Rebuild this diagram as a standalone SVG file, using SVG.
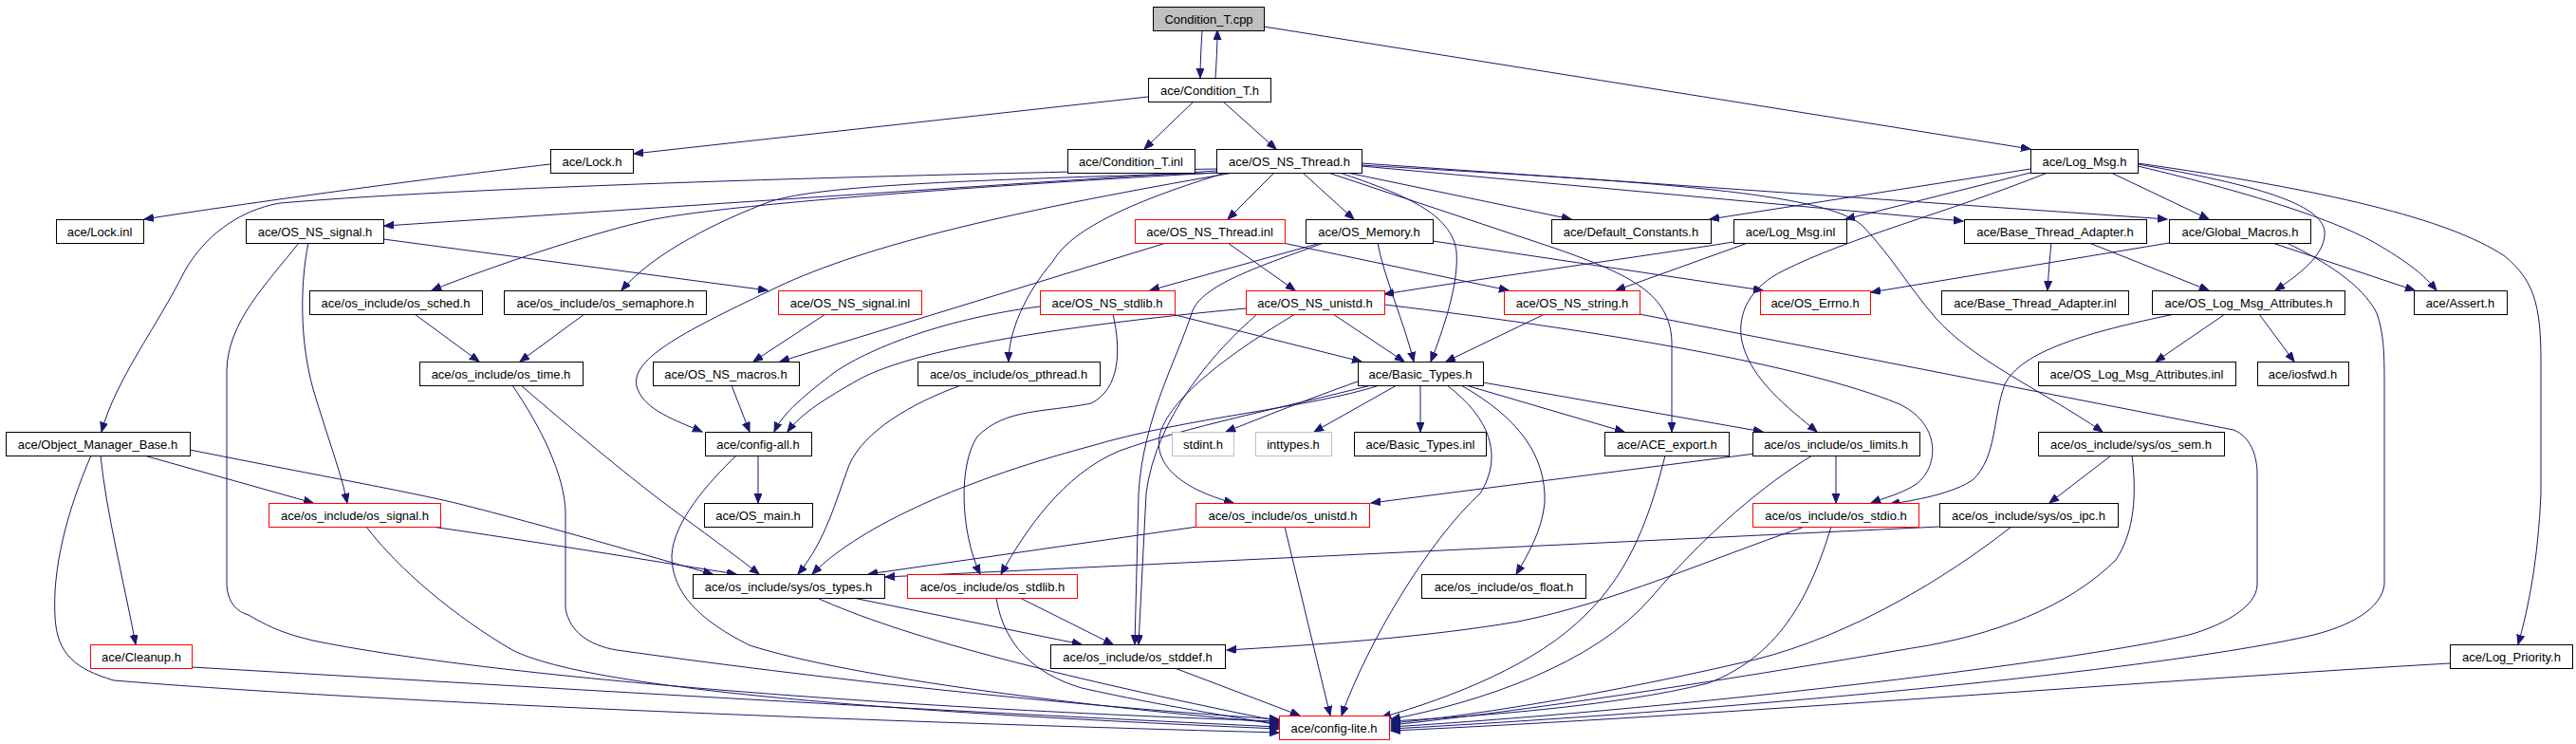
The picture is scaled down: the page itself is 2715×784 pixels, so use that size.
<svg xmlns="http://www.w3.org/2000/svg" width="2715" height="784" viewBox="0 0 2715 784">
<style>
.n rect{fill:#fff;stroke:#000;stroke-width:1}
.n.r rect{stroke:#f00}
.n.g rect{stroke:#bfbfbf}
.n.s rect{fill:#bfbfbf}
.n text{font-family:"Liberation Sans",Arial,sans-serif;font-size:13px;text-anchor:middle;fill:#000}
#edges path{fill:none;stroke:#191970;stroke-width:1;marker-end:url(#a)}
</style>
<defs>
<marker id="a" markerWidth="11" markerHeight="9" refX="10" refY="4" orient="auto" markerUnits="userSpaceOnUse"><path d="M0,0 L10,4 L0,8 z" fill="#191970" stroke="#191970" stroke-width="1"/></marker>
</defs>
<rect width="2715" height="784" fill="#fff"/>
<g id="edges">
<path d="M1267,32 C1266,50 1265,66 1265,82"/>
<path d="M1281,82 C1282,66 1283,50 1283,32"/>
<path d="M1332,28 L2140,157"/>
<path d="M1210,102 L668,162"/>
<path d="M1258,107 L1206,157"/>
<path d="M1289,107 L1345,157"/>
<path d="M580,173 C450,188 260,214 152,231"/>
<path d="M1282,178 C1000,183 520,195 295,214 C250,222 215,250 195,285 C165,345 122,400 107,455"/>
<path d="M1282,180 C1000,198 620,224 405,238"/>
<path d="M1282,182 C1050,195 760,215 680,233 C620,247 520,280 455,306"/>
<path d="M1290,182 C1000,190 860,196 810,213 C760,232 690,265 655,306"/>
<path d="M1300,182 C1050,225 900,262 810,307 C720,350 660,380 672,410 C680,432 712,443 740,455"/>
<path d="M1292,182 C1200,210 1130,240 1110,275 C1080,310 1063,350 1063,381"/>
<path d="M1343,182 L1294,231"/>
<path d="M1373,182 L1427,231"/>
<path d="M1420,182 L1656,231"/>
<path d="M1412,182 C1480,205 1530,225 1535,265 C1538,300 1520,350 1508,381"/>
<path d="M1400,182 L1640,262 C1720,290 1760,310 1762,360 L1762,455"/>
<path d="M1435,172 L2284,231"/>
<path d="M1435,175 L2069,233"/>
<path d="M1435,174 C1700,190 1930,200 1965,240 C1995,272 2010,300 2040,335 C2080,380 2150,410 2216,455"/>
<path d="M2140,178 L1802,231"/>
<path d="M2140,182 L1945,231"/>
<path d="M2158,182 C2050,225 1950,250 1880,285 C1845,302 1830,330 1836,360 C1845,400 1885,430 1915,455"/>
<path d="M2225,182 L2328,231"/>
<path d="M2253,173 C2380,195 2445,215 2450,243 C2452,265 2430,285 2398,306"/>
<path d="M2253,175 C2380,205 2470,235 2510,260 C2540,278 2555,290 2568,306"/>
<path d="M2253,172 C2450,200 2580,230 2640,270 C2670,295 2678,320 2678,380 L2678,520 C2675,590 2665,640 2654,679"/>
<path d="M404,252 L809,306"/>
<path d="M325,256 C316,300 316,360 330,410 C345,460 360,500 366,530"/>
<path d="M315,256 C280,300 240,340 239,390 L239,617 C240,635 250,645 262,648 C290,665 310,670 330,675 C500,710 900,745 1348,760"/>
<path d="M1229,256 L822,381"/>
<path d="M1294,256 L1365,306"/>
<path d="M1352,256 L1590,306"/>
<path d="M1392,256 L1212,306"/>
<path d="M1452,256 C1458,290 1480,340 1490,381"/>
<path d="M1510,254 L1858,306"/>
<path d="M1395,256 C1330,280 1265,300 1256,330 C1240,380 1205,440 1200,520 L1196,679"/>
<path d="M1325,331 C1280,370 1218,440 1208,520 L1200,679"/>
<path d="M1365,331 C1300,370 1230,420 1222,460 C1216,495 1255,518 1300,530"/>
<path d="M1313,325 C1100,345 960,370 905,400 C870,420 845,435 830,455"/>
<path d="M1405,331 L1480,381"/>
<path d="M1459,321 C1700,350 1900,385 2000,425 C2045,445 2045,490 2020,510 C2005,520 1985,525 1972,530"/>
<path d="M1096,323 C1000,335 920,365 880,392 C850,415 825,435 816,455"/>
<path d="M1235,331 L1435,381"/>
<path d="M1173,331 C1182,370 1180,410 1150,425 C1100,435 1060,430 1030,460 C1010,490 1012,560 1033,605"/>
<path d="M870,331 L794,381"/>
<path d="M771,406 L790,455"/>
<path d="M437,331 L505,381"/>
<path d="M616,331 L548,381"/>
<path d="M540,406 C570,450 595,500 596,540 L596,641 C600,665 620,680 650,685 C900,720 1150,745 1348,758"/>
<path d="M549,406 C600,450 660,500 700,530 C740,560 775,585 800,605"/>
<path d="M1013,406 C960,425 910,455 895,490 C880,530 870,570 841,605"/>
<path d="M799,480 L799,530"/>
<path d="M776,480 C745,510 710,550 708,585 C708,620 730,650 790,680 C900,715 1150,745 1348,762"/>
<path d="M106,480 C112,540 130,610 143,679"/>
<path d="M96,480 C70,540 55,600 58,650 C60,690 80,705 120,717 C400,740 900,760 1348,772"/>
<path d="M152,480 L330,530"/>
<path d="M200,474 C330,500 420,516 480,530 C580,555 680,585 751,605"/>
<path d="M386,555 C420,600 480,650 540,685 C600,715 800,745 1348,768"/>
<path d="M455,555 C560,570 680,590 776,605"/>
<path d="M202,703 C500,720 900,745 1348,766"/>
<path d="M899,630 L1140,679"/>
<path d="M861,630 C950,670 1100,710 1348,760"/>
<path d="M1075,630 L1173,679"/>
<path d="M1050,630 C1058,680 1090,710 1140,725 C1230,745 1300,755 1348,764"/>
<path d="M1238,704 L1370,754"/>
<path d="M1262,555 L915,605"/>
<path d="M1354,555 L1402,754"/>
<path d="M2044,555 L933,608"/>
<path d="M1454,406 C1380,430 1250,440 1150,470 C1000,510 900,560 856,605"/>
<path d="M1445,406 C1350,430 1250,450 1180,475 C1120,500 1080,560 1055,605"/>
<path d="M1431,402 C1380,420 1330,440 1292,455"/>
<path d="M1472,406 L1385,455"/>
<path d="M1497,406 L1497,455"/>
<path d="M1545,406 L1712,455"/>
<path d="M1563,403 L1858,455"/>
<path d="M1540,406 C1600,440 1630,480 1628,530 C1625,560 1610,585 1598,605"/>
<path d="M1525,406 C1570,440 1585,480 1560,520 C1505,570 1440,680 1414,754"/>
<path d="M1628,331 L1524,381"/>
<path d="M1755,480 C1740,540 1720,600 1672,647 C1620,700 1530,735 1456,756"/>
<path d="M1850,478 L1445,530"/>
<path d="M1935,480 L1935,530"/>
<path d="M1910,480 C1860,510 1800,560 1740,630 C1680,700 1560,740 1466,758"/>
<path d="M1930,555 C1910,620 1880,690 1800,720 C1700,745 1550,755 1466,760"/>
<path d="M1902,555 C1800,590 1700,635 1600,655 C1500,672 1380,680 1293,685"/>
<path d="M2120,555 C2050,610 1950,670 1850,695 C1700,730 1550,755 1466,762"/>
<path d="M2225,480 L2160,530"/>
<path d="M2247,480 C2252,520 2250,560 2230,590 C2180,640 2100,670 2015,683 C1800,720 1600,750 1466,764"/>
<path d="M1728,331 L2354,453 C2372,460 2379,480 2379,500 L2379,616 C2379,640 2340,660 2307,669 C2200,695 1800,745 1466,766"/>
<path d="M2410,256 C2450,275 2490,300 2505,330 C2512,350 2513,370 2513,400 L2513,616 C2510,640 2480,660 2430,671 C2250,710 1800,750 1466,768"/>
<path d="M2395,256 L2545,306"/>
<path d="M2286,256 L1972,308"/>
<path d="M2582,699 C2300,715 1800,755 1466,770"/>
<path d="M2162,256 C2160,275 2159,290 2158,306"/>
<path d="M2202,256 L2328,306"/>
<path d="M2345,331 L2272,381"/>
<path d="M2381,331 L2418,381"/>
<path d="M2292,331 C2200,350 2130,370 2113,405 C2100,440 2105,480 2080,505 C2060,520 2015,528 1992,531"/>
<path d="M1842,256 L1703,306"/>
<path d="M1827,255 C1700,275 1550,295 1459,310"/>
</g>
<g id="n0" class="n s"><rect x="1215.5" y="7.5" width="117" height="25"/><text x="1274" y="24.5">Condition_T.cpp</text></g>
<g id="n1" class="n"><rect x="1210.5" y="82.5" width="129" height="25"/><text x="1275" y="99.5">ace/Condition_T.h</text></g>
<g id="n2" class="n"><rect x="580.5" y="157.5" width="87" height="25"/><text x="624" y="174.5">ace/Lock.h</text></g>
<g id="n3" class="n"><rect x="1125.5" y="157.5" width="134" height="25"/><text x="1192" y="174.5">ace/Condition_T.inl</text></g>
<g id="n4" class="n"><rect x="1282.5" y="157.5" width="153" height="25"/><text x="1359" y="174.5">ace/OS_NS_Thread.h</text></g>
<g id="n5" class="n"><rect x="2140.5" y="157.5" width="113" height="25"/><text x="2197" y="174.5">ace/Log_Msg.h</text></g>
<g id="n6" class="n"><rect x="59.5" y="231.5" width="92" height="25"/><text x="105" y="248.5">ace/Lock.inl</text></g>
<g id="n7" class="n"><rect x="259.5" y="231.5" width="145" height="25"/><text x="332" y="248.5">ace/OS_NS_signal.h</text></g>
<g id="n8" class="n r"><rect x="1196.5" y="231.5" width="158" height="25"/><text x="1275" y="248.5">ace/OS_NS_Thread.inl</text></g>
<g id="n9" class="n"><rect x="1376.5" y="231.5" width="134" height="25"/><text x="1443" y="248.5">ace/OS_Memory.h</text></g>
<g id="n10" class="n"><rect x="1635.5" y="231.5" width="168" height="25"/><text x="1719" y="248.5">ace/Default_Constants.h</text></g>
<g id="n11" class="n"><rect x="1827.5" y="231.5" width="119" height="25"/><text x="1887" y="248.5">ace/Log_Msg.inl</text></g>
<g id="n12" class="n"><rect x="2070.5" y="231.5" width="192" height="25"/><text x="2166" y="248.5">ace/Base_Thread_Adapter.h</text></g>
<g id="n13" class="n"><rect x="2286.5" y="231.5" width="149" height="25"/><text x="2361" y="248.5">ace/Global_Macros.h</text></g>
<g id="n14" class="n"><rect x="326.5" y="306.5" width="182" height="25"/><text x="417" y="323.5">ace/os_include/os_sched.h</text></g>
<g id="n15" class="n"><rect x="531.5" y="306.5" width="213" height="25"/><text x="638" y="323.5">ace/os_include/os_semaphore.h</text></g>
<g id="n16" class="n r"><rect x="820.5" y="306.5" width="151" height="25"/><text x="896" y="323.5">ace/OS_NS_signal.inl</text></g>
<g id="n17" class="n r"><rect x="1096.5" y="306.5" width="142" height="25"/><text x="1167" y="323.5">ace/OS_NS_stdlib.h</text></g>
<g id="n18" class="n r"><rect x="1313.5" y="306.5" width="146" height="25"/><text x="1386" y="323.5">ace/OS_NS_unistd.h</text></g>
<g id="n19" class="n r"><rect x="1585.5" y="306.5" width="143" height="25"/><text x="1657" y="323.5">ace/OS_NS_string.h</text></g>
<g id="n20" class="n r"><rect x="1855.5" y="306.5" width="116" height="25"/><text x="1913" y="323.5">ace/OS_Errno.h</text></g>
<g id="n21" class="n"><rect x="2046.5" y="306.5" width="197" height="25"/><text x="2145" y="323.5">ace/Base_Thread_Adapter.inl</text></g>
<g id="n22" class="n"><rect x="2268.5" y="306.5" width="203" height="25"/><text x="2370" y="323.5">ace/OS_Log_Msg_Attributes.h</text></g>
<g id="n23" class="n"><rect x="2544.5" y="306.5" width="98" height="25"/><text x="2593" y="323.5">ace/Assert.h</text></g>
<g id="n24" class="n"><rect x="442.5" y="381.5" width="172" height="25"/><text x="528" y="398.5">ace/os_include/os_time.h</text></g>
<g id="n25" class="n"><rect x="688.5" y="381.5" width="154" height="25"/><text x="765" y="398.5">ace/OS_NS_macros.h</text></g>
<g id="n26" class="n"><rect x="967.5" y="381.5" width="192" height="25"/><text x="1063" y="398.5">ace/os_include/os_pthread.h</text></g>
<g id="n27" class="n"><rect x="1431.5" y="381.5" width="132" height="25"/><text x="1497" y="398.5">ace/Basic_Types.h</text></g>
<g id="n28" class="n"><rect x="2148.5" y="381.5" width="208" height="25"/><text x="2252" y="398.5">ace/OS_Log_Msg_Attributes.inl</text></g>
<g id="n29" class="n"><rect x="2379.5" y="381.5" width="96" height="25"/><text x="2427" y="398.5">ace/iosfwd.h</text></g>
<g id="n30" class="n"><rect x="6.5" y="455.5" width="194" height="25"/><text x="103" y="472.5">ace/Object_Manager_Base.h</text></g>
<g id="n31" class="n"><rect x="743.5" y="455.5" width="112" height="25"/><text x="799" y="472.5">ace/config-all.h</text></g>
<g id="n32" class="n g"><rect x="1235.5" y="455.5" width="65" height="25"/><text x="1268" y="472.5">stdint.h</text></g>
<g id="n33" class="n g"><rect x="1323.5" y="455.5" width="80" height="25"/><text x="1363" y="472.5">inttypes.h</text></g>
<g id="n34" class="n"><rect x="1427.5" y="455.5" width="139" height="25"/><text x="1497" y="472.5">ace/Basic_Types.inl</text></g>
<g id="n35" class="n"><rect x="1691.5" y="455.5" width="131" height="25"/><text x="1757" y="472.5">ace/ACE_export.h</text></g>
<g id="n36" class="n"><rect x="1847.5" y="455.5" width="176" height="25"/><text x="1935" y="472.5">ace/os_include/os_limits.h</text></g>
<g id="n37" class="n"><rect x="2148.5" y="455.5" width="196" height="25"/><text x="2246" y="472.5">ace/os_include/sys/os_sem.h</text></g>
<g id="n38" class="n r"><rect x="283.5" y="530.5" width="181" height="25"/><text x="374" y="547.5">ace/os_include/os_signal.h</text></g>
<g id="n39" class="n"><rect x="742.5" y="530.5" width="114" height="25"/><text x="799" y="547.5">ace/OS_main.h</text></g>
<g id="n40" class="n r"><rect x="1260.5" y="530.5" width="183" height="25"/><text x="1352" y="547.5">ace/os_include/os_unistd.h</text></g>
<g id="n41" class="n r"><rect x="1847.5" y="530.5" width="175" height="25"/><text x="1935" y="547.5">ace/os_include/os_stdio.h</text></g>
<g id="n42" class="n"><rect x="2044.5" y="530.5" width="188" height="25"/><text x="2138" y="547.5">ace/os_include/sys/os_ipc.h</text></g>
<g id="n43" class="n"><rect x="730.5" y="605.5" width="202" height="25"/><text x="831" y="622.5">ace/os_include/sys/os_types.h</text></g>
<g id="n44" class="n r"><rect x="956.5" y="605.5" width="179" height="25"/><text x="1046" y="622.5">ace/os_include/os_stdlib.h</text></g>
<g id="n45" class="n"><rect x="1498.5" y="605.5" width="173" height="25"/><text x="1585" y="622.5">ace/os_include/os_float.h</text></g>
<g id="n46" class="n r"><rect x="95.5" y="679.5" width="107" height="25"/><text x="149" y="696.5">ace/Cleanup.h</text></g>
<g id="n47" class="n"><rect x="1107.5" y="679.5" width="184" height="25"/><text x="1199" y="696.5">ace/os_include/os_stddef.h</text></g>
<g id="n48" class="n"><rect x="2582.5" y="679.5" width="129" height="25"/><text x="2647" y="696.5">ace/Log_Priority.h</text></g>
<g id="n49" class="n r"><rect x="1348.5" y="754.5" width="116" height="25"/><text x="1406" y="771.5">ace/config-lite.h</text></g>
</svg>
